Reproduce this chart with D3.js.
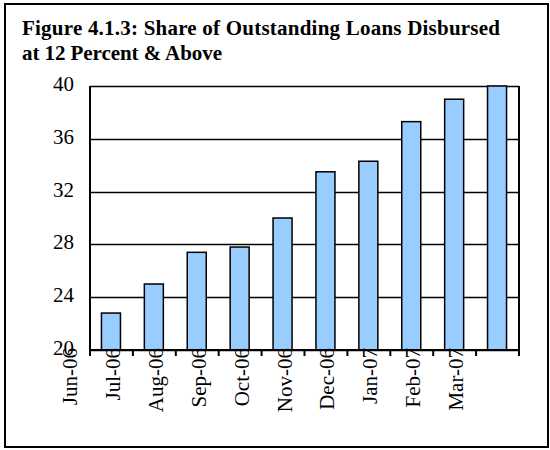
<!DOCTYPE html>
<html>
<head>
<meta charset="utf-8">
<script src="https://cdn.jsdelivr.net/npm/d3@7"></script>
<style>
  html, body { margin: 0; padding: 0; background: #fff; }
  svg { display: block; }
</style>
</head>
<body>
<svg id="chart" width="550" height="450"></svg>
<script>
const categories = ["Jun-06","Jul-06","Aug-06","Sep-06","Oct-06","Nov-06","Dec-06","Jan-07","Feb-07","Mar-07"];
const shareValues = [22.8, 25.0, 27.4, 27.8, 30.0, 33.5, 34.3, 37.3, 39.0, 40.0];
const yTicks = [20, 24, 28, 32, 36, 40];
const titleLines = ["Figure 4.1.3: Share of Outstanding Loans Disbursed", "at 12 Percent & Above"];

const svg = d3.select("#chart");
const font = "'Liberation Serif', 'Times New Roman', serif";

// outer frame
svg.append("rect").attr("x", 5).attr("y", 4).attr("width", 543).attr("height", 443)
  .attr("fill", "#fff").attr("stroke", "#000").attr("stroke-width", 2);

// title
const titleW = [478, 200];
titleLines.forEach((t, i) => {
  svg.append("text").attr("x", 22).attr("y", 35 + i * 25)
    .attr("font-family", font).attr("font-weight", "bold").attr("font-size", 21)
    .attr("textLength", titleW[i]).attr("lengthAdjust", "spacing")
    .attr("fill", "#000").text(t);
});

const plot = { left: 90, right: 519, top: 86, bottom: 350 };

const x = d3.scaleBand().domain(categories).range([plot.left, plot.right]).paddingInner(0).paddingOuter(0);
const y = d3.scaleLinear().domain([20, 40]).range([plot.bottom, plot.top]);

const g = svg.append("g");

// gridlines
g.selectAll("line.grid").data(yTicks).join("line")
  .attr("x1", plot.left).attr("x2", plot.right)
  .attr("y1", d => Math.round(y(d)) + 0.5).attr("y2", d => Math.round(y(d)) + 0.5)
  .attr("stroke", "#000").attr("stroke-width", 1.5);

// y labels
g.selectAll("text.ylab").data(yTicks).join("text")
  .attr("x", 74).attr("y", d => y(d) + 5)
  .attr("text-anchor", "end").attr("font-family", font).attr("font-size", 21)
  .attr("fill", "#000").text(d => d);

// bars
const bw = 19;
g.selectAll("rect.bar").data(shareValues).join("rect")
  .attr("x", (d, i) => x(categories[i]) + x.bandwidth() / 2 - bw / 2 - 0.5)
  .attr("y", d => y(Math.min(d, 40)))
  .attr("width", bw)
  .attr("height", d => plot.bottom - y(Math.min(d, 40)))
  .attr("fill", "#99CCFF").attr("stroke", "#000").attr("stroke-width", 1.5);

// plot frame
g.append("line").attr("x1", plot.left).attr("x2", plot.left).attr("y1", plot.top).attr("y2", plot.bottom + 6)
  .attr("stroke", "#000").attr("stroke-width", 2);
g.append("line").attr("x1", plot.right).attr("x2", plot.right).attr("y1", plot.top).attr("y2", plot.bottom + 6)
  .attr("stroke", "#000").attr("stroke-width", 2);
g.append("line").attr("x1", plot.left).attr("x2", plot.right).attr("y1", plot.bottom).attr("y2", plot.bottom)
  .attr("stroke", "#000").attr("stroke-width", 2);

// x tick marks at category boundaries
const bounds = categories.map(c => x(c)).concat([plot.right]);
g.selectAll("line.xt").data(bounds).join("line")
  .attr("x1", d => d).attr("x2", d => d)
  .attr("y1", plot.bottom).attr("y2", plot.bottom + 6)
  .attr("stroke", "#000").attr("stroke-width", 2);

// x labels (rotated, offset as in original)
g.selectAll("text.xlab").data(categories).join("text")
  .attr("transform", d => `translate(${x(d) - 13},348) rotate(-90)`)
  .attr("text-anchor", "end").attr("font-family", font).attr("font-size", 21)
  .attr("fill", "#000").text(d => d);
</script>
</body>
</html>
